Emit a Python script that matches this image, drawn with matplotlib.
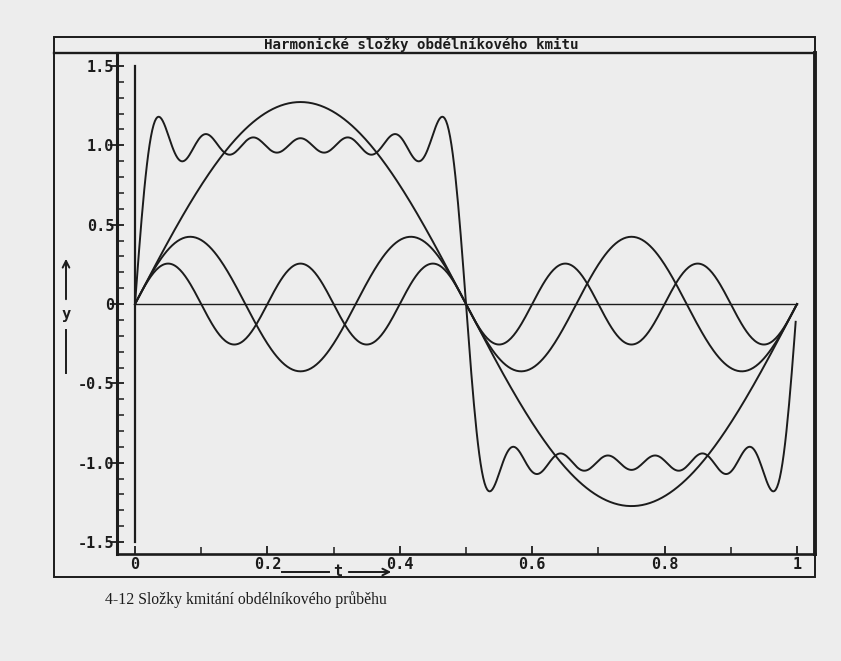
import numpy as np
import matplotlib.pyplot as plt
from matplotlib.patches import Rectangle, FancyArrowPatch
from matplotlib.lines import Line2D

# harmonic components (order, amplitude)
single_orders = [1, 3, 5]
single_amps = [1.273, 0.424, 0.255]

# partial sum of the square wave: odd harmonics up to 13
sum_orders = [1, 3, 5, 7, 9, 11, 13]
sum_amps = [1.273, 0.424, 0.255, 0.182, 0.141, 0.116, 0.098]

y_ticks = [-1.5, -1.0, -0.5, 0, 0.5, 1.0, 1.5]
y_labels = ["-1.5", "-1.0", "-0.5", "0", "0.5", "1.0", "1.5"]
x_ticks = [0, 0.2, 0.4, 0.6, 0.8, 1]
x_labels = ["0", "0.2", "0.4", "0.6", "0.8", "1"]

title = "Harmonické složky obdélníkového kmitu"
caption = "4-12 Složky kmitání obdélníkového průběhu"

bg = "#ededed"
ink = "#1c1c1c"
mono = "DejaVu Sans Mono"

W, H = 841, 661
fig = plt.figure(figsize=(W / 100, H / 100), dpi=100, facecolor=bg)

def fx(px):
    return px / W

def fy(py):
    return 1 - py / H

ax = fig.add_axes([fx(117), fy(554), fx(815) - fx(117), fy(53) - fy(554)])
ax.set_facecolor(bg)

t = np.linspace(0, 1, 501)
for k, a in zip(single_orders, single_amps):
    ax.plot(t, a * np.sin(2 * np.pi * k * t), color=ink, lw=1.4)

ts = np.arange(0, 1, 0.002)
total = np.zeros_like(ts)
for k, a in zip(sum_orders, sum_amps):
    total += a * np.sin(2 * np.pi * k * ts)
ax.plot(ts, total, color=ink, lw=1.4)

ax.plot([0, 1], [0, 0], color=ink, lw=1.0)
ax.plot([0, 0], [-1.5, 1.5], color=ink, lw=1.6)

ax.set_xlim(-0.0272, 1.0272)
ax.set_ylim(-1.575, 1.582)

ax.set_xticks(x_ticks)
ax.set_xticklabels(x_labels)
ax.set_xticks(np.arange(0.1, 1.0, 0.2), minor=True)
ax.set_yticks(y_ticks)
ax.set_yticklabels(y_labels)
ax.set_yticks(np.arange(-1.5, 1.51, 0.1), minor=True)

ax.tick_params(axis="y", which="major", direction="inout", length=10, width=1.3,
               pad=-3, colors=ink, labelsize=11)
ax.tick_params(axis="y", which="minor", direction="in", length=5, width=1.1, colors=ink)
ax.tick_params(axis="x", which="major", direction="in", length=6, width=1.3,
               pad=2, colors=ink, labelsize=11)
ax.tick_params(axis="x", which="minor", direction="in", length=5, width=1.1, colors=ink)
for lab in ax.get_xticklabels() + ax.get_yticklabels():
    lab.set_fontfamily(mono)
    lab.set_fontweight("bold")

ax.spines["top"].set_visible(False)
ax.spines["left"].set_linewidth(2.2)
ax.spines["bottom"].set_linewidth(1.9)
ax.spines["right"].set_linewidth(2.8)
for s in ax.spines.values():
    s.set_color(ink)

# outer frame and title bar
fig.patches.append(Rectangle((fx(54), fy(577)), fx(815) - fx(54), fy(37) - fy(577),
                             transform=fig.transFigure, fill=False, ec=ink, lw=1.4))
fig.lines.append(Line2D([fx(54), fx(815)], [fy(53), fy(53)], transform=fig.transFigure,
                        color=ink, lw=1.7))
fig.text(fx(421), fy(44.5), title, ha="center", va="center", family=mono,
         fontweight="bold", fontsize=10.2, color=ink)

# y axis label with arrow
fig.text(fx(66), fy(315), "y", ha="center", va="center", family=mono,
         fontweight="bold", fontsize=11, color=ink)
fig.add_artist(FancyArrowPatch(
    (fx(66), fy(302)), (fx(66), fy(256)), transform=fig.transFigure,
    arrowstyle="->", mutation_scale=12, color=ink, lw=1.4))
fig.lines.append(Line2D([fx(66), fx(66)], [fy(330), fy(373)], transform=fig.transFigure,
                        color=ink, lw=1.4))

# x axis label with arrow
fig.lines.append(Line2D([fx(282), fx(329)], [fy(572), fy(572)], transform=fig.transFigure,
                        color=ink, lw=1.4))
fig.text(fx(338), fy(571), "t", ha="center", va="center", family=mono,
         fontweight="bold", fontsize=11, color=ink)
fig.add_artist(FancyArrowPatch(
    (fx(346), fy(572)), (fx(394), fy(572)), transform=fig.transFigure,
    arrowstyle="->", mutation_scale=12, color=ink, lw=1.4))

fig.text(fx(105), fy(600), caption, ha="left", va="center", family="Liberation Serif",
         fontsize=11.3, color=ink)

fig.savefig("out.png", dpi=100, facecolor=bg)
